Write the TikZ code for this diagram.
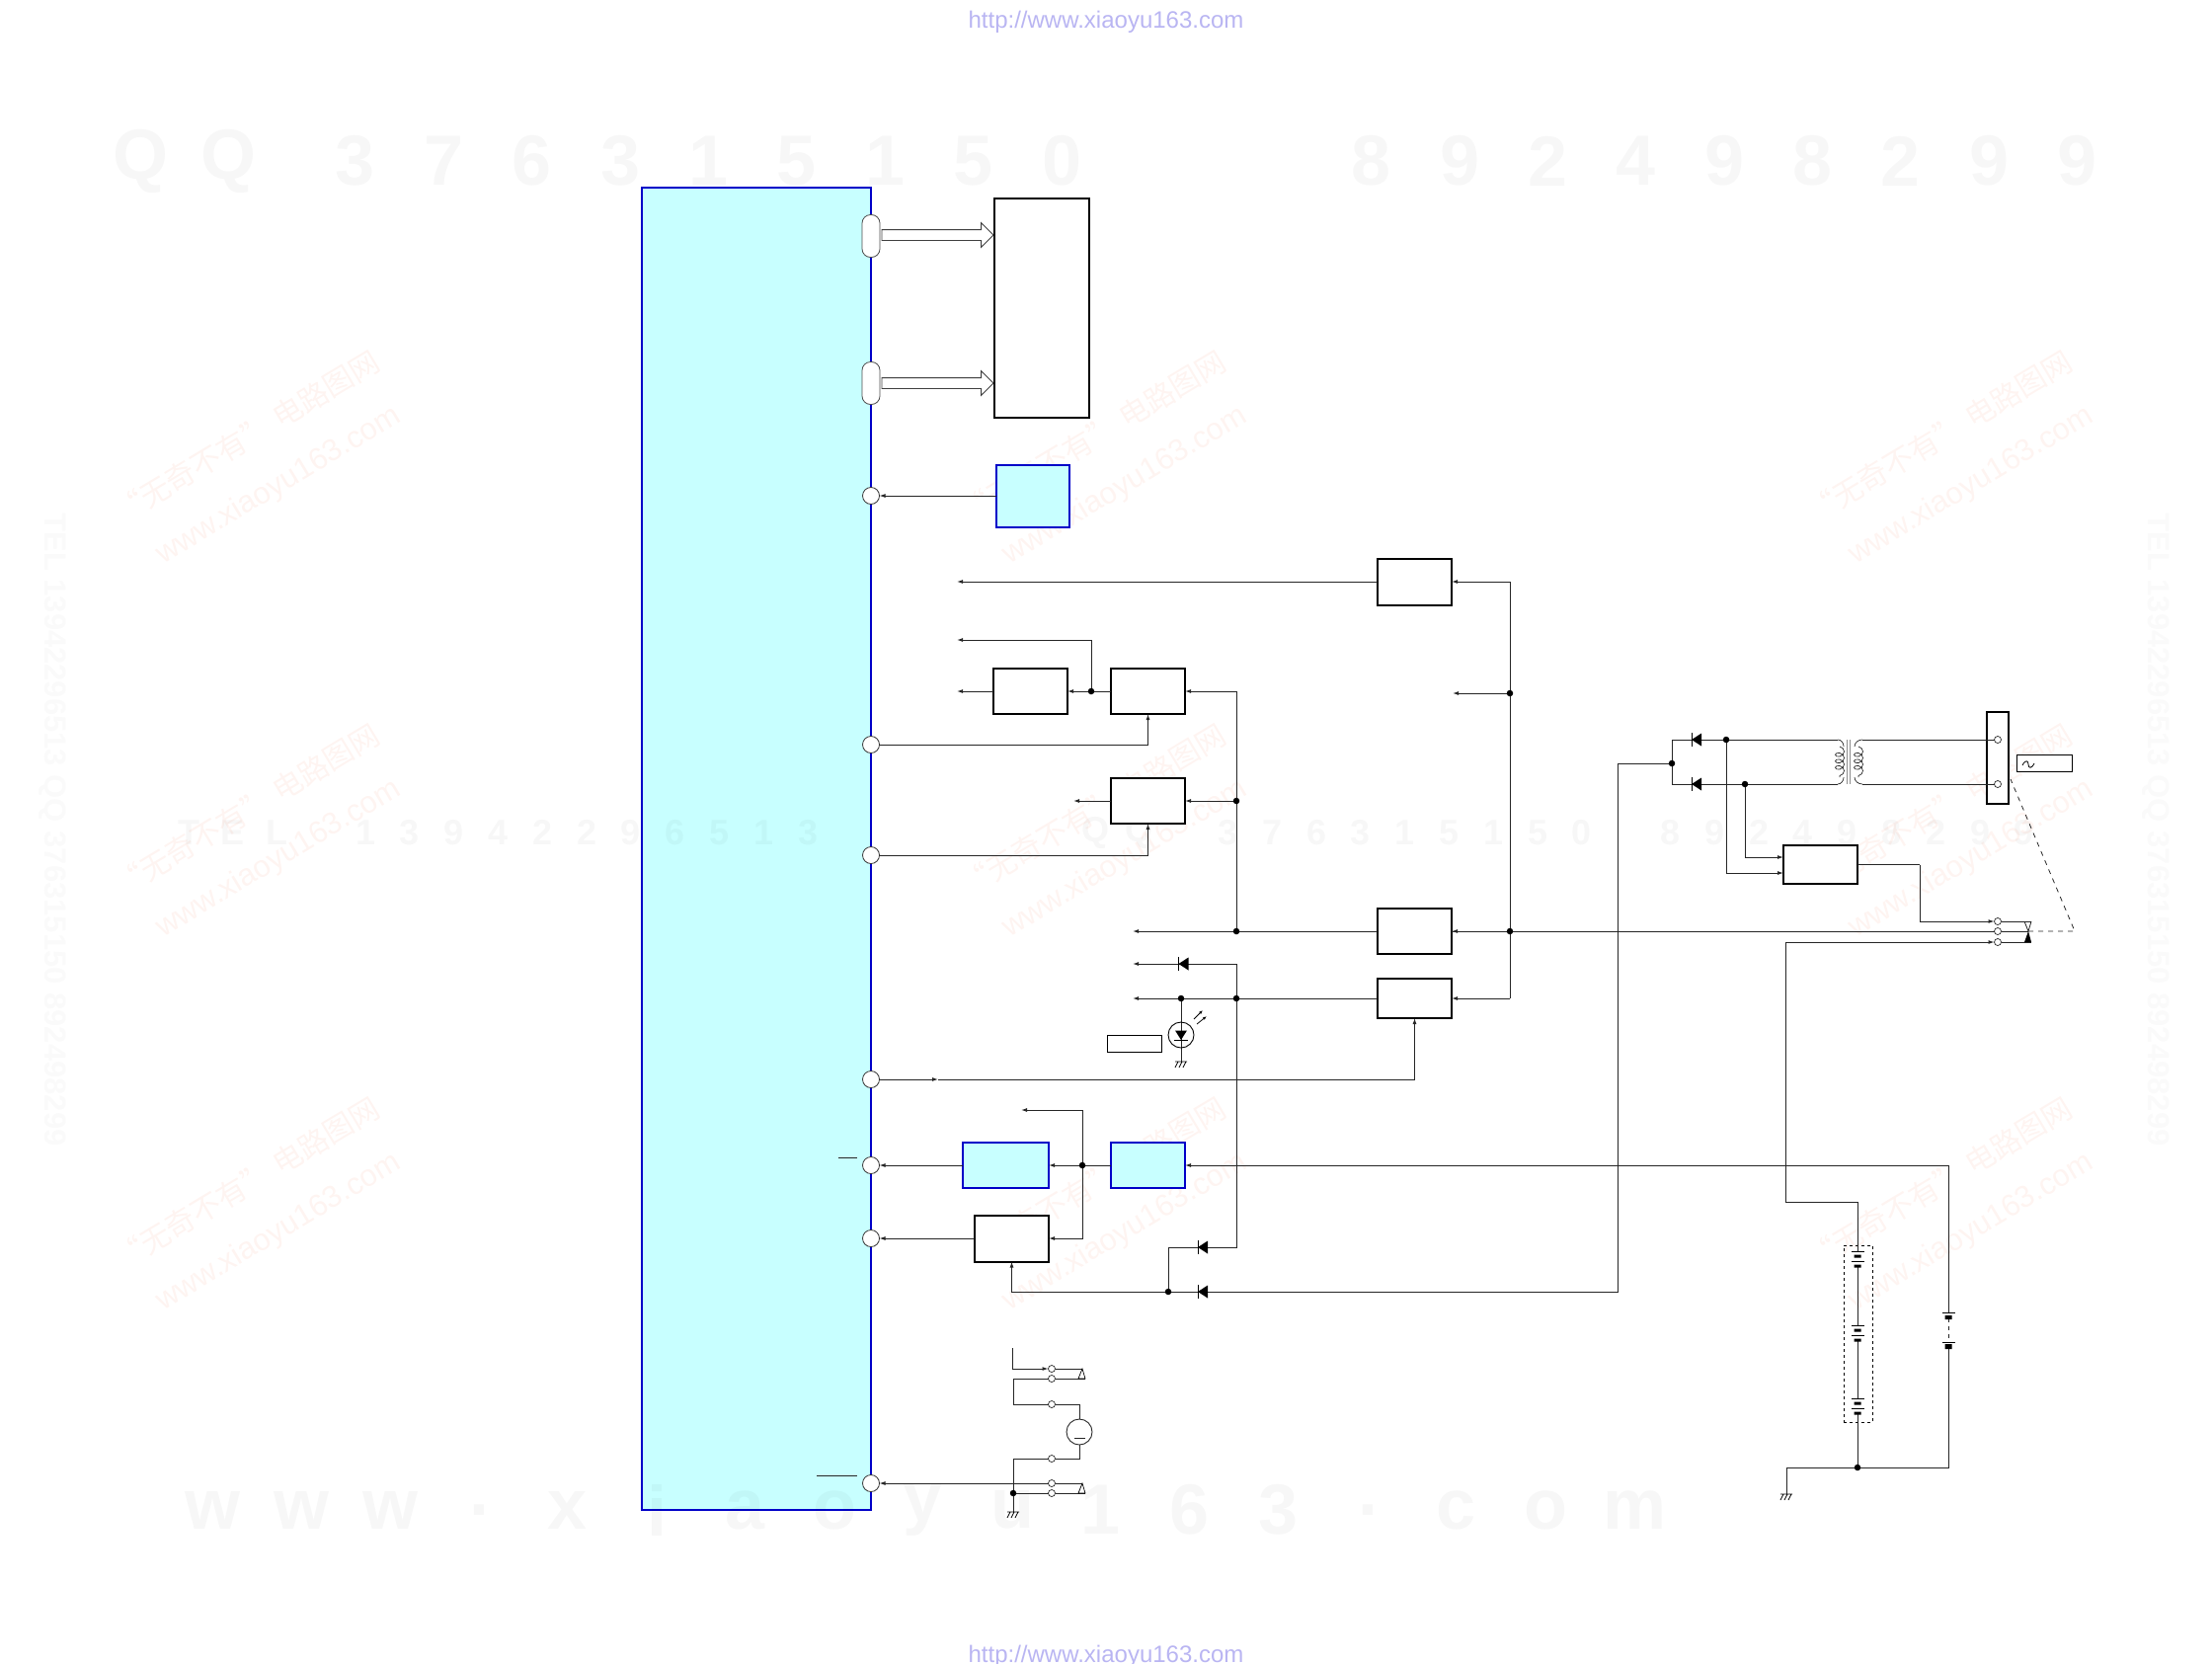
\documentclass[tikz,border=0pt]{standalone}
\usepackage{fontspec}
\setmainfont{Liberation Sans}
\newfontfamily\cjkfont{Noto Sans CJK SC}
\usepackage{tikz}
\usetikzlibrary{arrows.meta, shapes.arrows, decorations.pathmorphing}
\definecolor{mCyan}{HTML}{C8FFFF}
\definecolor{mBlue}{HTML}{0000C8}
\definecolor{mUrl}{HTML}{B9B5F2}
\definecolor{mStamp}{HTML}{FEF4F1}
\colorlet{wireink}{black!85}

\begin{document}
\begin{tikzpicture}[x=1pt, y=-1pt,
  blk/.style={draw=black, fill=white, line width=2pt, inner sep=0pt, outer sep=0pt},
  blkblue/.style={draw=mBlue, fill=mCyan, line width=2pt, inner sep=0pt, outer sep=0pt},
  lbl/.style={draw=black, fill=white, line width=1pt, inner sep=0pt, outer sep=0pt},
  port/.style={circle, draw=black!80, fill=white, line width=.8pt, minimum size=17pt, inner sep=0pt, outer sep=0pt},
  pill/.style={draw=black!70, fill=white, line width=.8pt, rounded corners=8.5pt, minimum width=18pt, minimum height=43pt, inner sep=0pt, outer sep=0pt},
  busarrow/.style={single arrow, draw=black!75, fill=white, line width=.8pt, minimum height=113pt, inner xsep=0pt, inner ysep=5pt,
                   single arrow head extend=7pt, outer sep=0pt, anchor=tip},
  term/.style={circle, draw=black!85, fill=white, line width=.7pt, minimum size=7pt, inner sep=0pt, outer sep=0pt},
  dot/.style={circle, fill=black, minimum size=6.5pt, inner sep=0pt, outer sep=0pt},
  wire/.style={draw=wireink, line width=1pt},
  sig/.style={wire, -{Latex[length=6pt, width=4pt]}},
  windg/.style={draw=wireink, line width=.7pt, decorate, decoration={coil, aspect=.75, segment length=6.5pt, amplitude=4.5pt}},
  wm/.style={font=\bfseries\fontsize{72}{80}\selectfont, text=black, text opacity=.03},
  wmsm/.style={font=\bfseries\fontsize{36}{40}\selectfont, text=black, text opacity=.03},
  wmside/.style={font=\bfseries\fontsize{31}{34}\selectfont, text=black, text opacity=.02, rotate=-90},
  stamp/.style={text=mStamp, rotate=31, inner sep=0pt},
  urltxt/.style={font=\fontsize{24}{28}\selectfont, text=mUrl},
  diode/.pic={\fill[black] (-5,0) -- (5,-6.5) -- (5,6.5) -- cycle; \draw[line width=1pt] (-5,-6.7) -- (-5,6.7);},
  gnd/.pic={\draw[line width=.8pt] (-6,0) -- (6,0) (-3,0) -- (-6,6) (1,0) -- (-2,6) (5,0) -- (2,6);},
  cellpair/.pic={\draw[line width=1pt] (-6.5,0) -- (6.5,0) (-6.5,10) -- (6.5,10);
    \fill[black] (-3.5,3.5) rectangle (3.5,6.5) (-3.5,13.5) rectangle (3.5,16.5);},
  ledsym/.pic={\draw[line width=.9pt] (0,0) circle (13);
    \fill[black] (-6,-4.5) -- (6,-4.5) -- (0,5) -- cycle;
    \draw[line width=1pt] (-7,5) -- (7,5);
    \draw[line width=.8pt, -{Latex[length=4pt, width=3pt]}] (13,-16) -- (22,-25);
    \draw[line width=.8pt, -{Latex[length=4pt, width=3pt]}] (16,-11) -- (26,-19);},
]
  \useasboundingbox (0,0) rectangle (2240,1684);
  \node[urltxt] (urlT) at (1120,22) {http://www.xiaoyu163.com};
  \node[urltxt] (urlB) at (1120,1677) {http://www.xiaoyu163.com};
  \foreach \cx in {0,857,1714} \foreach \cy in {0,378,756} {
    \node[stamp, font=\cjkfont\fontsize{30}{34}\selectfont] (sa\cx-\cy) at (250+\cx,442+\cy) {“无奇不有” 电路图网};
    \node[stamp, font=\fontsize{31}{36}\selectfont] (sb\cx-\cy) at (282+\cx,492+\cy) {www.xiaoyu163.com};
  }

  \node[draw=mBlue, fill=mCyan, line width=2.5pt, minimum width=232pt, minimum height=1339pt, inner sep=0pt] (main) at (766,859.5) {};

  \foreach \ch [count=\i] in {Q,Q}
    \node[wm] (wp\i) at ({143+(\i-1)*88.5},163) {\ch};
  \foreach \ch [count=\i] in {3,7,6,3,1,5,1,5,0}
    \node[wm] (wq\i) at ({360+(\i-1)*89.4},163) {\ch};
  \foreach \ch [count=\i] in {8,9,2,4,9,8,2,9,9}
    \node[wm] (wr\i) at ({1389+(\i-1)*89.3},163) {\ch};
  \foreach \ch [count=\i] in {w,w,w,.,x,i,a,o,y,u,1,6,3,.,c,o,m}
    \node[wm] (ws\i) at ({215+(\i-1)*90},1529) {\ch};
  \foreach \ch [count=\i] in {T,E,L,{~},1,3,9,4,2,2,9,6,5,1,3}
    \node[wmsm] (wt\i) at ({191+(\i-1)*44.8},843) {\ch};
  \foreach \ch [count=\i] in {Q,Q,{~},3,7,6,3,1,5,1,5,0,{~},8,9,2,4,9,8,2,9,9}
    \node[wmsm] (wu\i) at ({1109+(\i-1)*44.8},843) {\ch};
  \node[wmside] (wsL) at (53,840) {TEL 13942296513 QQ 376315150 892498299};
  \node[wmside] (wsR) at (2183,840) {TEL 13942296513 QQ 376315150 892498299};

  \node[blk, minimum width=96pt, minimum height=222pt] (ext) at (1055,312) {};
  \node[blkblue, minimum width=74pt, minimum height=63pt] (memo) at (1046,502) {};
  \node[blk, minimum width=75pt, minimum height=47pt] (regA) at (1432.5,589) {};
  \node[blk, minimum width=75pt, minimum height=46pt] (swA) at (1043.5,700) {};
  \node[blk, minimum width=75pt, minimum height=46pt] (swB) at (1162.5,700) {};
  \node[blk, minimum width=75pt, minimum height=46pt] (swC) at (1162.5,811) {};
  \node[blk, minimum width=75pt, minimum height=46pt] (regB) at (1432.5,943) {};
  \node[blk, minimum width=75pt, minimum height=40pt] (regC) at (1432.5,1011) {};
  \node[blkblue, minimum width=87pt, minimum height=46pt] (blA) at (1018.5,1180) {};
  \node[blkblue, minimum width=75pt, minimum height=46pt] (blB) at (1162.5,1180) {};
  \node[blk, minimum width=75pt, minimum height=47pt] (swD) at (1024.5,1254) {};
  \node[blk, minimum width=75pt, minimum height=39pt] (pwr) at (1843.5,875.5) {};
  \node[lbl, minimum width=55pt, minimum height=17pt] (lampTag) at (1148.5,1056.5) {};
  \node[lbl, minimum width=56pt, minimum height=17pt] (acTag) at (2070,772.5) {};
  \node[blk, minimum width=22pt, minimum height=93pt] (conn) at (2023,767.5) {};
  \node[draw=black, dashed, line width=1pt, minimum width=29pt, minimum height=179pt, inner sep=0pt] (pack) at (1881.5,1350.5) {};
  \node[circle, draw=black!85, line width=.9pt, minimum size=26pt, inner sep=0pt, outer sep=0pt] (mot) at (1093,1450) {};

  \node[pill] (pillA) at (882,239) {};
  \node[pill] (pillB) at (882,388) {};
  \node[busarrow] (busA) at (1006,238) {};
  \node[busarrow] (busB) at (1006,388) {};
  \node[port] (p1) at (882,502) {};
  \node[port] (p2) at (882,754) {};
  \node[port] (p3) at (882,866) {};
  \node[port] (p4) at (882,1093) {};
  \node[port] (p5) at (882,1180) {};
  \node[port] (p6) at (882,1254) {};
  \node[port] (p7) at (882,1502) {};

  \foreach \nm/\tx/\ty in {tA/2023/749, tB/2023/794, tC/2023/933, tD/2023/943, tE/2023/954,
      s1/1065/1386, s2/1065/1396, s3/1065/1422, s4/1065/1477, s5/1065/1502, s6/1065/1512}
    \node[term] (\nm) at (\tx,\ty) {};

  \foreach \nm/\tx/\ty in {jA/1105/700, jB/1252/811, jC/1252/943, jD/1196/1011, jE/1252/1011,
      jF/1529/702, jG/1529/943, jH/1096/1180, jI/1183/1308, jJ/1693/773, jK/1748/749,
      jL/1767/794, jM/1881/1486, jN/1026/1512}
    \coordinate (\nm) at (\tx,\ty);

  \foreach \nm/\tx/\ty in {oA/969/589, oB/969/648, oC/969/700, oD/1087/811, oE/1147/943, oF/1147/976,
      oG/1147/1011, oH/1471/702, oI/1034/1124, cA/1529/589, cB/1529/1011, cC/1252/700, cD/1252/976,
      cE/1252/1263, cF/1183/1263, cG/1638/773, cH/1638/1308, cI/950/1093, cJ/1944/875.5,
      cK/1808/1217, cL/1881/1217, cM/1881/1267, cN/1881/1282, cO/1881/1342, cP/1881/1357,
      cQ/1881/1416, cR/1881/1431, cS/1973/1180, cT/1973/1329, cU/1973/1364, cV/1973/1486,
      cW/1809/1486, cX/1809/1513, cY/1693/749, cZ/1693/794, dA/1861/749, dB/1861/794, dC/1886/749,
      dD/1886/794, eA/1025/1365, eB/1026/1396, eC/1026/1422, eD/1026/1477, eE/1026/1531,
      fA/2054/943, fB/2101/943, fC/2036/789, gA/1196/1075}
    \coordinate (\nm) at (\tx,\ty);

  \draw[sig] (memo.west) -- (p1.east);
  \draw[sig] (regA.west) -- (oA);
  \draw[wire] (cA) -- (cB);
  \draw[sig] (cA) -- (regA.east);
  \draw[sig] (jF) -- (oH);
  \draw[sig] (jG) -- (regB.east);
  \draw[sig] (cB) -- (regC.east);
  \draw[wire] (swB.west) -- (jA);
  \draw[sig] (jA) -- (swA.east);
  \draw[sig] (jA) |- (oB);
  \draw[sig] (swA.west) -- (oC);
  \draw[wire] (cC) -- (jC);
  \draw[sig] (cC) -- (swB.east);
  \draw[sig] (jB) -- (swC.east);
  \draw[sig] (swC.west) -- (oD);
  \draw[sig] (p2.east) -| (swB.south);
  \draw[sig] (p3.east) -| (swC.south);
  \draw[wire] (regB.west) -- (jC);
  \draw[sig] (jC) -- (oE);
  \draw[wire] (regB.east) -- (tD.west);
  \draw[wire] (regC.west) -- (jD);
  \draw[sig] (jD) -- (oG);
  \draw[wire] (jD) -- (gA);
  \draw[sig] (cD) -- (oF);
  \draw[wire] (cD) -- (cE) -- (cF) -- (jI);
  \draw[wire] (jJ) -- (cG) -- (cH) -- (jI);
  \draw[sig] (jI) -| (swD.south);
  \draw[sig] (p4.east) -- (cI);
  \draw[sig] (cI) -| (regC.south);
  \draw[wire] (blB.west) -- (jH);
  \draw[sig] (jH) -- (blA.east);
  \draw[sig] (blA.west) -- (p5.east);
  \draw[sig] (jH) |- (oI);
  \draw[sig] (jH) |- (swD.east);
  \draw[sig] (swD.west) -- (p6.east);
  \draw[sig] (cS) -- (blB.east);
  \draw[wire] (cS) -- (cT);
  \draw[wire] (cU) -- (cV) -- (cW) -- (cX);
  \draw[wire, dash pattern=on 4pt off 4pt] (1973,1335) -- (1973,1359);
  \draw[wire] (cL) -- (cM);
  \draw[wire] (cN) -- (cO);
  \draw[wire] (cP) -- (cQ);
  \draw[wire] (cR) -- (jM);
  \draw[sig] (cL) -- (cK) |- (tE.west);
  \draw[wire] (dA) -- (cY) -- (cZ) -- (dB);
  \draw[wire] (cG) -- (jJ);
  \draw[wire] (dC) -- (tA.west);
  \draw[wire] (dD) -- (tB.west);
  \draw[sig] (jK) |- ([yshift=-8.5pt]pwr.west);
  \draw[sig] (jL) |- ([yshift=7.5pt]pwr.west);
  \draw[wire] (pwr.east) -- (cJ);
  \draw[sig] (cJ) |- (tC.west);
  \draw[wire] (tC.east) -- (2057,933);
  \draw[wire] (tD.east) -- (fA);
  \draw[wire] (tE.east) -- (2057,954);
  \draw[wire, line width=.8pt] (2050,933) -- (fA) -- (2057,933);
  \fill[black] (fA) -- (2050,954) -- (2057,954) -- cycle;
  \draw[wire, line width=.8pt, dash pattern=on 5pt off 5pt] (fA) -- (fB) -- (fC);

  \draw[windg] (1863,756) -- (1863,787);
  \draw[wire, line width=.7pt] (dA) to[out=0, in=90] (1867,756) (dB) to[out=0, in=-90] (1867,787);
  \draw[windg] (1882,756) -- (1882,787);
  \draw[wire, line width=.7pt] (dC) to[out=180, in=90] (1878,756) (dD) to[out=180, in=-90] (1878,787);
  \draw[draw=black!45, line width=1pt] (1870,749) -- (1870,794) (1873.5,749) -- (1873.5,794);

  \draw[sig] (eA) |- (s1.west);
  \draw[wire] (s2.west) -- (eB) -- (eC) -- (s3.west);
  \draw[wire] (s3.east) -| (mot.north);
  \draw[wire] (s4.east) -| (mot.south);
  \draw[wire] (s4.west) -- (eD) -- (eE);
  \draw[wire] (s6.west) -- (jN);
  \draw[sig] (s5.west) -- (p7.east);
  \draw[wire, line width=.8pt] (s1.east) -- (1096,1386);
  \draw[wire, line width=.8pt] (s2.east) -- (1099,1396);
  \draw[wire, line width=.8pt] (s5.east) -- (1096,1502);
  \draw[wire, line width=.8pt] (s6.east) -- (1099,1512);
  \draw[line width=.7pt] (1096,1386) -- (1092,1396) -- (1099,1396) -- cycle;
  \draw[line width=.7pt] (1096,1502) -- (1092,1512) -- (1099,1512) -- cycle;
  \draw[wire] (1088,1456) -- (1099,1456);

  \draw[wire] (849,1172) -- (868,1172);
  \draw[wire] (827,1494) -- (868,1494);
  \draw[line width=.8pt] (2048,775) .. controls (2051,769) and (2054,770) .. (2054,774) .. controls (2054,778) and (2057,779) .. (2060,773);

  \foreach \nm in {jA,jB,jC,jD,jE,jF,jG,jH,jI,jJ,jK,jL,jM,jN}
    \node[dot] at (\nm) {};

  \pic at (1198.5,976) {diode};
  \pic at (1218,1263) {diode};
  \pic at (1218,1308) {diode};
  \pic at (1718,749) {diode};
  \pic at (1718,794) {diode};
  \pic at (1196,1048) {ledsym};
  \pic at (gA) {gnd};
  \pic at (cX) {gnd};
  \pic at (eE) {gnd};
  \pic at (cM) {cellpair};
  \pic at (cO) {cellpair};
  \pic at (cQ) {cellpair};
  \draw[line width=1pt] (1966.5,1329) -- (1979.5,1329) (1966.5,1359) -- (1979.5,1359);
  \fill[black] (1969.5,1332) rectangle (1976.5,1336) (1969.5,1361) rectangle (1976.5,1366);
\end{tikzpicture}
\end{document}
